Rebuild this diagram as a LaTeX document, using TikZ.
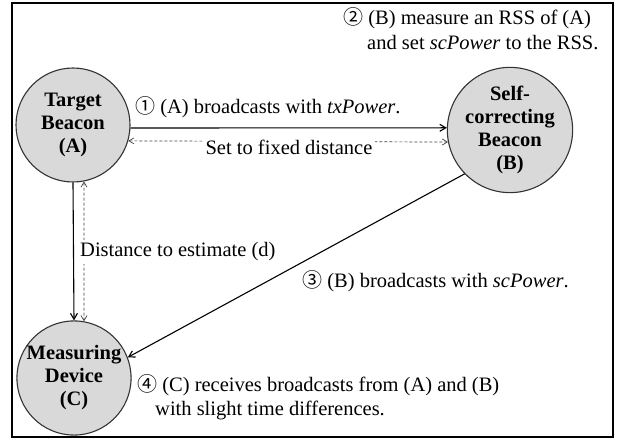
\documentclass[tikz,border=0pt]{standalone}
\usepackage{fontspec}
\setmainfont{Liberation Serif}
\newfontfamily\symfont{Noto Sans CJK SC}
\usetikzlibrary{arrows.meta}
\newcommand{\cnum}[1]{{\symfont\fontsize{20}{20}\selectfont #1}}
\begin{document}
\begin{tikzpicture}[x=1pt,y=-1pt,
  every node/.style={font=\fontsize{20.5}{25}\selectfont},
  device/.style={circle,draw=black!80,line width=1.1pt,fill=black!15,minimum size=114pt,inner sep=0pt,align=center,font=\fontsize{20.5}{23}\selectfont\bfseries},
  solidarrow/.style={line width=1.1pt,-{Straight Barb[length=6pt,width=7pt]}},
  dasharrow/.style={line width=0.7pt,black!75,dash pattern=on 3pt off 2pt,{Straight Barb[length=5pt,width=6pt]}-{Straight Barb[length=5pt,width=6pt]}},
  lbl/.style={anchor=west,inner sep=0pt},
  whitelbl/.style={fill=white,inner sep=3pt}]
\useasboundingbox (0,0) rectangle (622,441);
\draw[line width=1.5pt] (12,3) rectangle (613,437);
\node[device] (A) at (73,125) {Target\\Beacon\\(A)};
\node[device] (B) at (510,130) {Self-\\correcting\\Beacon\\(B)};
\node[device] (C) at (74,378) {Measuring\\Device\\(C)};
% connectors
\draw[solidarrow] (A.-3) -- (B.178);
\draw[dasharrow] (A.-16) -- (B.191);
\node[whitelbl] (fixed) at (289,147) {Set to fixed distance};
\draw[solidarrow] (A.270) -- (C.90);
\draw[dasharrow] (A.-79) -- (C.80);
\node[whitelbl,anchor=west,inner xsep=2pt] (dist) at (78,252) {Distance to estimate (d)};
\draw[solidarrow] (B.224) -- (C.21);
% labels
\node[lbl] (s1) at (135,107) {\cnum{①} (A) broadcasts with \textit{txPower}.};
\node[lbl] (s2a) at (343,18) {\cnum{②} (B) measure an RSS of (A)};
\node[lbl] (s2b) at (367,43) {and set \textit{scPower} to the RSS.};
\node[lbl] (s3) at (302,281) {\cnum{③} (B) broadcasts with \textit{scPower}.};
\node[lbl] (s4a) at (137,385) {\cnum{④} (C) receives broadcasts from (A) and (B)};
\node[lbl] (s4b) at (155,410) {with slight time differences.};
\end{tikzpicture}
\end{document}
